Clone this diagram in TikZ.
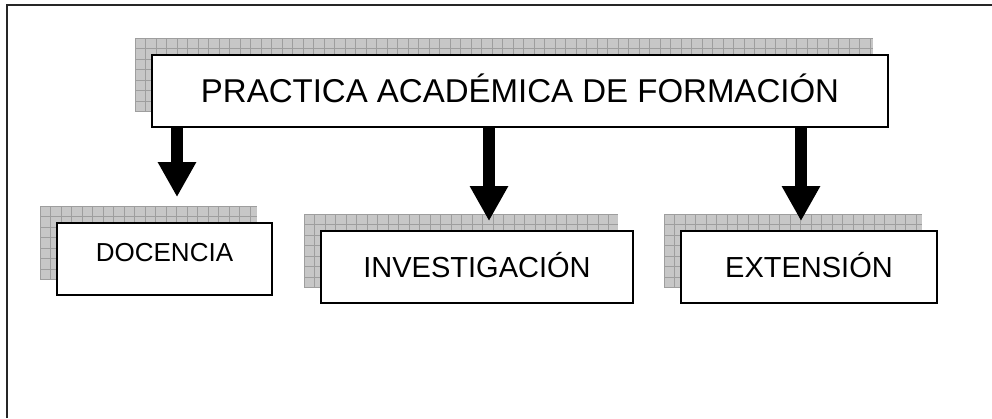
\documentclass[tikz,border=0pt]{standalone}
\usepackage{fontspec}
\setmainfont{Liberation Sans}
\usetikzlibrary{positioning, arrows.meta, backgrounds}
\tikzset{
		box nodes/.style={
			rectangle,
			draw=black,
			fill=white,
			line width=1.8pt,
			align=center,
			minimum height=72pt,
			inner sep=0pt,
			text depth=0pt
		},
		big text/.style={font=\fontsize{33}{40}\selectfont, text height=23.6pt},
		mid text/.style={font=\fontsize{29}{35}\selectfont, text height=20.8pt},
		small text/.style={font=\fontsize{26}{32}\selectfont, text height=18.6pt},
		shade fill/.style={fill=black!22},
		shade grid/.style={draw=black!38, line width=0.7pt},
		big arrow/.style={line width=12pt, -{Triangle[length=35pt, width=36pt]}},
		frame/.style={draw=black!85, line width=2pt}
	}
% grey gridded shadow up and left of a box
\newcommand{\gridshadow}[1]{%
	\begin{scope}
		\clip ([shift={(-16,16)}]#1.north west) rectangle ([shift={(-16,16)}]#1.south east);
		\fill[shade fill] ([shift={(-16,16)}]#1.north west) rectangle ([shift={(-16,16)}]#1.south east);
		\draw[shade grid, shift={([shift={(-16,16)}]#1.north west)}] (0,0) grid[step=10.5] (800,-100);
	\end{scope}}

\begin{document}
\begin{tikzpicture}[x=1pt, y=1pt]
			\useasboundingbox (0,0) rectangle (992,418);
			\draw[frame] (7,0) |- (992,413);

			\node[box nodes, big text, minimum width=736pt] (pract) at (520,327) {PRACTICA ACADÉMICA DE FORMACIÓN};
			\node[box nodes, small text, minimum width=215pt, text depth=14pt] (doc) at (164.5,159) {DOCENCIA};
			\node[box nodes, mid text, minimum width=312pt] (inv) at (477,151) {INVESTIGACIÓN};
			\node[box nodes, mid text, minimum width=256pt] (ext) at (809,151) {EXTENSIÓN};

			\begin{pgfonlayer}{background}
				\gridshadow{pract}
				\gridshadow{doc}
				\gridshadow{inv}
				\gridshadow{ext}
			\end{pgfonlayer}

			\coordinate (doc in) at ([shift={(12.5,25)}]doc.north);
			\coordinate (inv in) at ([shift={(12,9)}]inv.north);
			\coordinate (ext in) at ([shift={(-8,9)}]ext.north);
			\draw[big arrow] (pract.south -| doc in) -- (doc in);
			\draw[big arrow] (pract.south -| inv in) -- (inv in);
			\draw[big arrow] (pract.south -| ext in) -- (ext in);
		\end{tikzpicture}
\end{document}
